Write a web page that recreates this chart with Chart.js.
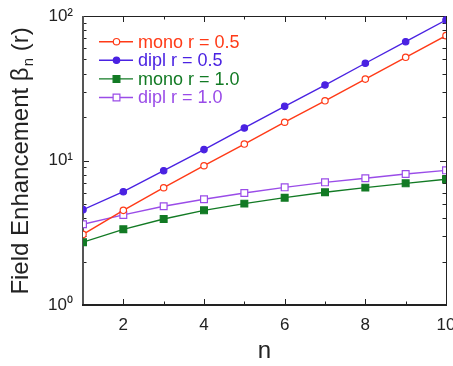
<!DOCTYPE html>
<html>
<head>
<meta charset="utf-8">
<script src="https://cdn.jsdelivr.net/npm/chart.js@4.4.1/dist/chart.umd.min.js"></script>
<style>
  html, body { margin: 0; padding: 0; background: #fff; overflow: hidden; }
  #wrap { position: relative; width: 470px; height: 366px; }
</style>
</head>
<body>
<div id="wrap"><canvas id="chart"></canvas></div>
<script>
// ===== Data =====
const nValues = [1, 2, 3, 4, 5, 6, 7, 8, 9, 10];
const monoHalf = [3.08, 4.52, 6.48, 9.2, 13.0, 18.4, 25.9, 36.6, 51.8, 73.1];
const diplHalf = [4.57, 6.08, 8.5, 11.9, 16.8, 23.7, 33.3, 47.1, 66.4, 93.8];
const monoOne = [2.72, 3.34, 3.94, 4.52, 5.03, 5.53, 6.03, 6.49, 6.95, 7.41];
const diplOne = [3.62, 4.2, 4.82, 5.39, 5.96, 6.52, 7.06, 7.53, 8.07, 8.55];

const seriesNames = ['mono r = 0.5', 'dipl r = 0.5', 'mono r = 1.0', 'dipl r = 1.0'];
const seriesColors = ['#ff3a17', '#4a22e2', '#127a24', '#9a4ce8'];
const seriesFilled = [false, true, true, false];
const seriesShapes = ['circle', 'circle', 'rect', 'rect'];

const xTickValues = [2, 4, 6, 8, 10];
const yTickValues = [1, 10, 100];
const yTickLabels = ['10\u2070', '10\u00b9', '10\u00b2'];

const FONT = '"Liberation Sans", Arial, sans-serif';
const INK = '#222';

const allSeries = [monoHalf, diplHalf, monoOne, diplOne];
const datasets = allSeries.map((vals, i) => ({
    label: seriesNames[i],
    data: vals.map((v, j) => ({ x: nValues[j], y: v })),
    borderColor: seriesColors[i],
    borderWidth: 1.4,
    pointStyle: seriesShapes[i],
    pointRadius: seriesShapes[i] === 'rect' ? 4.8 : 3.2,
    pointBorderWidth: 1.2,
    pointBorderColor: seriesColors[i],
    pointBackgroundColor: seriesFilled[i] ? seriesColors[i] : '#fff',
    tension: 0
}));

// frame + inward ticks on all four sides
const framePlugin = {
    id: 'frame',
    beforeDatasetsDraw(chart) {
        const { ctx, chartArea: a, scales: { x, y } } = chart;
        ctx.save();
        ctx.strokeStyle = INK;
        ctx.lineWidth = 1;
        // y ticks, majors and log minors
        for (let d = 0; d < 2; d++) {
            for (let m = 1; m <= 10; m++) {
                const v = m * Math.pow(10, d);
                const py = Math.round(y.getPixelForValue(v)) + 0.5;
                const len = (m === 1 || m === 10) ? 6 : 3.5;
                ctx.beginPath();
                ctx.moveTo(a.left, py); ctx.lineTo(a.left + len, py);
                ctx.moveTo(a.right, py); ctx.lineTo(a.right - len, py);
                ctx.stroke();
            }
        }
        // x ticks, every integer
        for (let v = 1; v <= 10; v++) {
            const px = Math.round(x.getPixelForValue(v)) + 0.5;
            const len = v % 2 === 0 ? 6 : 3.5;
            ctx.beginPath();
            ctx.moveTo(px, a.bottom); ctx.lineTo(px, a.bottom - len);
            ctx.moveTo(px, a.top); ctx.lineTo(px, a.top + len);
            ctx.stroke();
        }
        // top and right borders
        ctx.beginPath();
        ctx.moveTo(a.left, a.top + 0.5); ctx.lineTo(a.right, a.top + 0.5);
        ctx.moveTo(a.right + 0.5, a.top); ctx.lineTo(a.right + 0.5, a.bottom);
        ctx.stroke();
        // heavier left and bottom axes
        ctx.lineWidth = 2;
        ctx.strokeStyle = '#555';
        ctx.beginPath();
        ctx.moveTo(a.left, a.top); ctx.lineTo(a.left, a.bottom);
        ctx.stroke();
        ctx.strokeStyle = INK;
        ctx.beginPath();
        ctx.moveTo(a.left - 1, a.bottom); ctx.lineTo(a.right + 1, a.bottom);
        ctx.stroke();
        ctx.restore();
    }
};

function drawMarker(ctx, shape, filled, color, cx, cy, r) {
    ctx.beginPath();
    if (shape === 'circle') {
        ctx.arc(cx, cy, r, 0, Math.PI * 2);
    } else {
        const s = Math.SQRT1_2 * r;
        ctx.rect(cx - s, cy - s, 2 * s, 2 * s);
    }
    ctx.fillStyle = filled ? color : '#fff';
    ctx.fill();
    ctx.lineWidth = 1.2;
    ctx.strokeStyle = color;
    ctx.stroke();
}

// legend inside the plot, line + marker + coloured text
const legendPlugin = {
    id: 'innerLegend',
    afterDatasetsDraw(chart) {
        const { ctx } = chart;
        ctx.save();
        ctx.font = '18px ' + FONT;
        ctx.textBaseline = 'middle';
        const rows = [41.7, 60.3, 78.9, 97.5];
        seriesNames.forEach((name, i) => {
            const yy = rows[i];
            const c = seriesColors[i];
            ctx.strokeStyle = c;
            ctx.lineWidth = 1.4;
            ctx.beginPath();
            ctx.moveTo(99, yy); ctx.lineTo(133, yy);
            ctx.stroke();
            drawMarker(ctx, seriesShapes[i], seriesFilled[i], c, 116.5, yy,
                seriesShapes[i] === 'rect' ? 4.8 : 3.2);
            ctx.fillStyle = c;
            ctx.fillText(name, 138, yy + 1);
        });
        ctx.restore();
    }
};

// rotated y title with subscript n
const yTitlePlugin = {
    id: 'yTitle',
    afterDraw(chart) {
        const { ctx } = chart;
        const main = 'Field Enhancement \u03b2';
        const sub = 'n';
        const tail = ' (r)';
        ctx.save();
        ctx.translate(0, 161.5);
        ctx.rotate(-Math.PI / 2);
        ctx.fillStyle = INK;
        ctx.textBaseline = 'alphabetic';
        ctx.font = '24px ' + FONT;
        const w1 = ctx.measureText(main).width;
        const w3 = ctx.measureText(tail).width;
        ctx.font = '15px ' + FONT;
        const w2 = ctx.measureText(sub).width;
        let sx = -(w1 + w2 + w3) / 2;
        ctx.font = '24px ' + FONT;
        ctx.fillText(main, sx, 28);
        sx += w1;
        ctx.font = '15px ' + FONT;
        ctx.fillText(sub, sx + 1, 33);
        sx += w2 + 1;
        ctx.font = '24px ' + FONT;
        ctx.fillText(tail, sx, 28);
        ctx.restore();
    }
};

new Chart(document.getElementById('chart').getContext('2d'), {
    type: 'line',
    data: { datasets },
    options: {
        responsive: true,
        maintainAspectRatio: false,
        animation: false,
        layout: { padding: { top: 16, right: 24, left: 0, bottom: 0 } },
        plugins: { legend: { display: false }, tooltip: { enabled: false } },
        scales: {
            x: {
                type: 'linear',
                min: 1,
                max: 10,
                grid: { display: false, drawTicks: false },
                border: { display: false },
                afterBuildTicks: s => { s.ticks = xTickValues.map(v => ({ value: v })); },
                afterFit: s => { s.height = 61; s.paddingLeft = 0; s.paddingRight = 0; },
                ticks: {
                    color: INK,
                    padding: 10,
                    maxRotation: 0,
                    font: { family: FONT, size: 17 }
                },
                title: {
                    display: true,
                    text: 'n',
                    color: INK,
                    padding: { top: 0, bottom: 0 },
                    font: { family: FONT, size: 24 }
                }
            },
            y: {
                type: 'logarithmic',
                min: 1,
                max: 100,
                grid: { display: false, drawTicks: false },
                border: { display: false },
                afterBuildTicks: s => { s.ticks = yTickValues.map(v => ({ value: v })); },
                afterFit: s => { s.width = 83; s.paddingTop = 0; s.paddingBottom = 0; },
                ticks: {
                    color: INK,
                    padding: 10,
                    font: { family: FONT, size: 17 },
                    callback: v => {
                        const k = yTickValues.indexOf(v);
                        return k >= 0 ? yTickLabels[k] : '';
                    }
                }
            }
        }
    },
    plugins: [framePlugin, legendPlugin, yTitlePlugin]
});
</script>
</body>
</html>
